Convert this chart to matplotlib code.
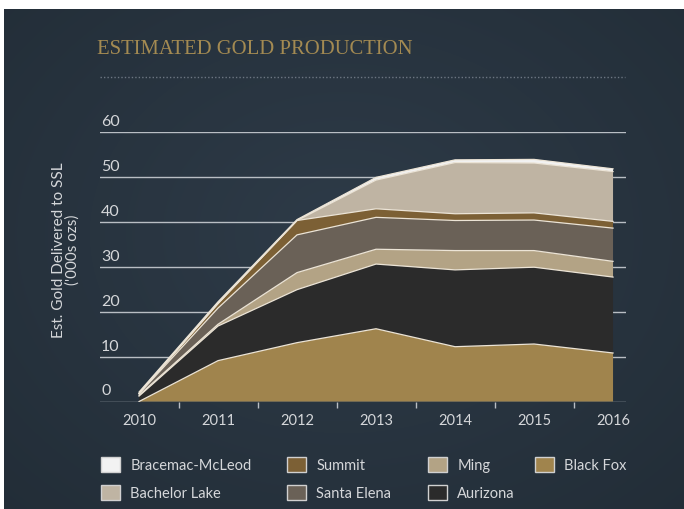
import numpy as np
import matplotlib
matplotlib.use("Agg")
import matplotlib.pyplot as plt
from matplotlib.patches import Patch
from matplotlib.lines import Line2D

# ---- data ----
years = ['2010', '2011', '2012', '2013', '2014', '2015', '2016']
black_fox = [0.0, 9.1, 13.1, 16.2, 12.2, 12.8, 10.8]
aurizona = [1.2, 7.7, 11.8, 14.4, 17.1, 17.1, 16.9]
ming = [0.2, 0.4, 3.8, 3.3, 4.3, 3.7, 3.5]
santa_elena = [0.3, 3.6, 8.4, 7.1, 6.7, 6.8, 7.4]
summit = [0.1, 1.0, 3.2, 1.9, 1.5, 1.6, 1.5]
bachelor_lake = [0.0, 0.0, 0.0, 6.4, 11.4, 11.1, 11.1]
bracemac = [0.3, 0.4, 0.2, 0.6, 0.6, 0.8, 0.6]
y_ticks = [0, 10, 20, 30, 40, 50, 60]

series_names = ['Black Fox', 'Aurizona', 'Ming', 'Santa Elena', 'Summit',
                'Bachelor Lake', 'Bracemac-McLeod']
series_vals = [black_fox, aurizona, ming, santa_elena, summit, bachelor_lake, bracemac]
colors = {
    'Black Fox': '#a0844d',
    'Aurizona': '#2b2b2b',
    'Ming': '#b3a385',
    'Santa Elena': '#6a6157',
    'Summit': '#7c6035',
    'Bachelor Lake': '#bfb4a3',
    'Bracemac-McLeod': '#f2f2f2',
}

W, H = 684, 510
fig = plt.figure(figsize=(W / 100, H / 100), dpi=100, facecolor='white')

# background panel with soft radial gradient
bg = fig.add_axes([4 / W, 0, 1 - 4 / W, (H - 10) / H])
yy, xx = np.mgrid[0:1:200j, 0:1:260j]
r = np.sqrt(((xx - 0.5) / 0.75) ** 2 + ((yy - 0.45) / 0.8) ** 2)
c_in = np.array([0x2e, 0x3b, 0x48]) / 255
c_out = np.array([0x22, 0x2d, 0x37]) / 255
t = np.clip(r, 0, 1)[..., None]
img = c_in * (1 - t) + c_out * t
bg.imshow(img, aspect='auto', extent=[0, 1, 0, 1], interpolation='bilinear')
bg.set_axis_off()

# main axes
x0, x1 = 100, 626
ybot, ytop = 402.5, 133
ax = fig.add_axes([x0 / W, (H - ybot) / H, (x1 - x0) / W, (ybot - ytop) / H])
ax.set_facecolor('none')
x = np.arange(len(years))
ax.set_xlim(-0.494, 6.164)
ax.set_ylim(0, 60)

ax.stackplot(x, *series_vals, colors=[colors[n] for n in series_names],
             edgecolor='none', zorder=2)
cum = np.cumsum(np.array(series_vals), axis=0)
for i, n in enumerate(series_names):
    ax.plot(x, cum[i], color='#ece4d6', lw=0.9, zorder=3,
            solid_joinstyle='miter')

# grid lines
for v in y_ticks:
    ax.axhline(v, color='#b9bec4', lw=1.0, zorder=1)
    ax.text(0.002, v + 0.9, str(v), transform=ax.get_yaxis_transform(),
            ha='left', va='bottom', color='#d5d7da', fontsize=11.5,
            family='Lato')

for s in ax.spines.values():
    s.set_visible(False)
ax.set_yticks([])
ax.set_xticks(x)
ax.set_xticklabels(years, color='#d5d7da', fontsize=10.5, family='Lato')
ax.tick_params(axis='x', which='major', length=0, pad=8)
ax.set_xticks(x[:-1] + 0.5, minor=True)
ax.tick_params(axis='x', which='minor', length=4, color='#b9bec4', width=1,
               direction='out')

# y label
fig.text(66 / W, 1 - 250 / H, "Est. Gold Delivered to SSL\n('000s ozs)",
         rotation=90, ha='center', va='center', color='#d5d7da',
         fontsize=11, family='Lato', linespacing=0.95)

# title
fig.text(97 / W, 1 - 50 / H, 'ESTIMATED GOLD PRODUCTION', ha='left',
         va='center', color='#a38a52', fontsize=14.9, family='Liberation Serif')
fig.add_artist(Line2D([100 / W, 625 / W], [1 - 78 / H, 1 - 78 / H],
                      transform=fig.transFigure, color='#6c7682', lw=1,
                      linestyle=(0, (1, 1.5))))

# legend, column by column
legend_cols = [['Bracemac-McLeod', 'Bachelor Lake'],
               ['Summit', 'Santa Elena'],
               ['Ming', 'Aurizona'],
               ['Black Fox']]
col_x = [101, 287, 428, 535]
for names, cx in zip(legend_cols, col_x):
    handles = [Patch(facecolor=colors[n], edgecolor='#d0d0d0', lw=1)
               for n in names]
    leg = fig.legend(handles, names, loc='upper left',
                     bbox_to_anchor=(cx / W, 1 - 457.5 / H),
                     frameon=False, borderpad=0,
                     borderaxespad=0, handlelength=1.3, handleheight=1.25,
                     handletextpad=0.7, labelspacing=0.85,
                     prop={'family': 'Lato', 'size': 10.5})
    for tx in leg.get_texts():
        tx.set_color('#d5d7da')

fig.savefig('out.png', dpi=100, facecolor=fig.get_facecolor())
